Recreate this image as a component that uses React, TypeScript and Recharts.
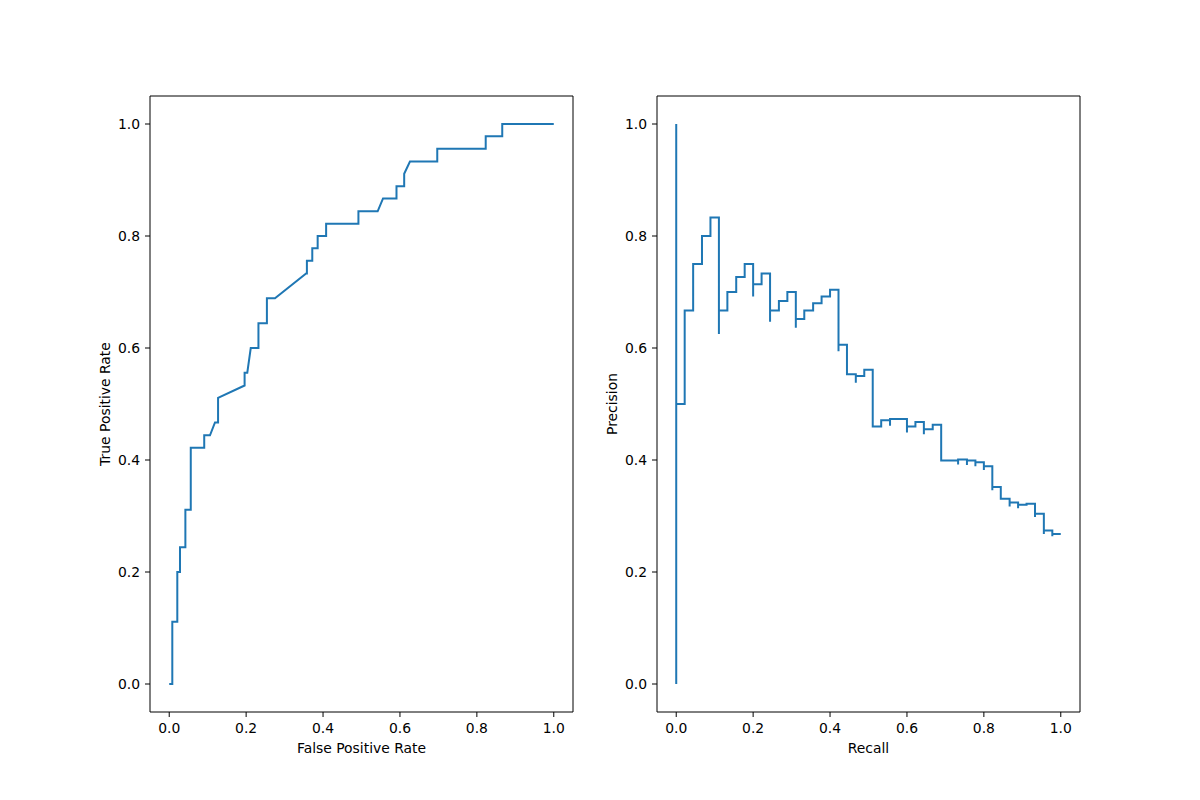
import React from "react";
import { LineChart, Line, XAxis, YAxis, ReferenceArea } from "recharts";

// ROC curve points (sklearn roc_curve order)
const rocFpr = [
  0, 0.008, 0.008, 0.021, 0.021, 0.028, 0.028, 0.042, 0.042, 0.056, 0.056, 0.091, 0.091, 0.106, 0.119, 0.127, 0.127,
  0.196, 0.196, 0.203, 0.212, 0.232, 0.232, 0.254, 0.254, 0.275, 0.356, 0.358, 0.358, 0.372, 0.372, 0.386, 0.386,
  0.408, 0.408, 0.492, 0.492, 0.542, 0.556, 0.591, 0.591, 0.611, 0.611, 0.626, 0.697, 0.697, 0.823, 0.823, 0.866,
  0.866, 1.0,
];
const rocTpr = [
  0, 0, 0.111, 0.111, 0.2, 0.2, 0.244, 0.244, 0.311, 0.311, 0.422, 0.422, 0.444, 0.444, 0.467, 0.467, 0.511, 0.533,
  0.556, 0.556, 0.6, 0.6, 0.644, 0.644, 0.689, 0.689, 0.733, 0.733, 0.756, 0.756, 0.778, 0.778, 0.8, 0.8, 0.822,
  0.822, 0.844, 0.844, 0.867, 0.867, 0.889, 0.889, 0.911, 0.933, 0.933, 0.956, 0.956, 0.978, 0.978, 1.0, 1.0,
];

// precision-recall points, recall increasing (drawn as steps)
const prRecall = [
  0, 0, 0.022, 0.044, 0.067, 0.089, 0.111, 0.111, 0.133, 0.156, 0.178, 0.2, 0.2, 0.222, 0.244, 0.244, 0.267, 0.289,
  0.311, 0.311, 0.333, 0.356, 0.378, 0.4, 0.422, 0.422, 0.444, 0.467, 0.467, 0.489, 0.511, 0.533, 0.556, 0.556, 0.6,
  0.6, 0.622, 0.644, 0.644, 0.667, 0.689, 0.733, 0.733, 0.756, 0.756, 0.778, 0.778, 0.8, 0.8, 0.822, 0.822, 0.844,
  0.867, 0.867, 0.889, 0.889, 0.911, 0.933, 0.933, 0.956, 0.956, 0.978, 0.978, 1.0,
];
const prPrecision = [
  1.0, 0.0, 0.5, 0.667, 0.75, 0.8, 0.833, 0.625, 0.667, 0.7, 0.727, 0.75, 0.692, 0.714, 0.733, 0.647, 0.667, 0.684,
  0.7, 0.636, 0.652, 0.667, 0.68, 0.692, 0.704, 0.594, 0.606, 0.553, 0.538, 0.55, 0.561, 0.46, 0.471, 0.461, 0.473,
  0.449, 0.46, 0.468, 0.446, 0.455, 0.463, 0.399, 0.392, 0.401, 0.391, 0.399, 0.389, 0.396, 0.382, 0.389, 0.346,
  0.352, 0.331, 0.317, 0.324, 0.314, 0.32, 0.322, 0.298, 0.304, 0.268, 0.274, 0.264, 0.268,
];

const ticks = [0, 0.2, 0.4, 0.6, 0.8, 1.0];
const DOMAIN: [number, number] = [-0.05, 1.05];
const BLUE = "#1f77b4";
const FONT = 13.9;

const rocData = rocFpr.map((x, i) => ({ x, y: rocTpr[i] }));
const prData = prRecall.map((x, i) => ({ x, y: prPrecision[i] }));

const fmt = (v: number) => v.toFixed(1);

function Panel({ data, xLabel, yLabel, step, left }: { data: { x: number; y: number }[]; xLabel: string; yLabel: string; step: boolean; left: number }) {
  const tickStyle = { fontSize: FONT, fill: "#000" };
  return (
    <div style={{ position: "absolute", left, top: 0 }}>
      <LineChart width={600} height={800} data={data} margin={{ top: 96, right: 600 - 90 - 423 - (left === 0 ? 60 : 47), bottom: 16, left: left === 0 ? 60 : 47 }}>
        <XAxis
          dataKey="x"
          type="number"
          domain={DOMAIN}
          ticks={ticks}
          tickFormatter={fmt}
          allowDataOverflow
          height={72}
          tickSize={5}
          tickMargin={6}
          axisLine={false}
          tickLine={{ stroke: "#000", strokeWidth: 1 }}
          tick={tickStyle}
          label={{ value: xLabel, position: "center", fontSize: FONT, fill: "#000" }}
        />
        <YAxis
          dataKey="y"
          type="number"
          domain={DOMAIN}
          ticks={ticks}
          tickFormatter={fmt}
          allowDataOverflow
          width={90}
          tickSize={5}
          tickMargin={5}
          axisLine={false}
          tickLine={{ stroke: "#000", strokeWidth: 1 }}
          tick={tickStyle}
          label={{ value: yLabel, angle: -90, position: "center", fontSize: FONT, fill: "#000" }}
        />
        <ReferenceArea x1={-0.05} x2={1.05} y1={-0.05} y2={1.05} fill="none" fillOpacity={0} stroke="#000" strokeWidth={1} strokeOpacity={1} />
        <Line
          dataKey="y"
          type={step ? "stepBefore" : "linear"}
          stroke={BLUE}
          strokeWidth={2}
          dot={false}
          activeDot={false}
          isAnimationActive={false}
        />
      </LineChart>
    </div>
  );
}

export default function App() {
  return (
    <div style={{ position: "absolute", left: 0, top: 0, width: 1200, height: 800, background: "#fff", fontFamily: "'DejaVu Sans', sans-serif" }}>
      <Panel data={rocData} xLabel="False Positive Rate" yLabel="True Positive Rate" step={false} left={0} />
      <Panel data={prData} xLabel="Recall" yLabel="Precision" step={true} left={520} />
    </div>
  );
}
